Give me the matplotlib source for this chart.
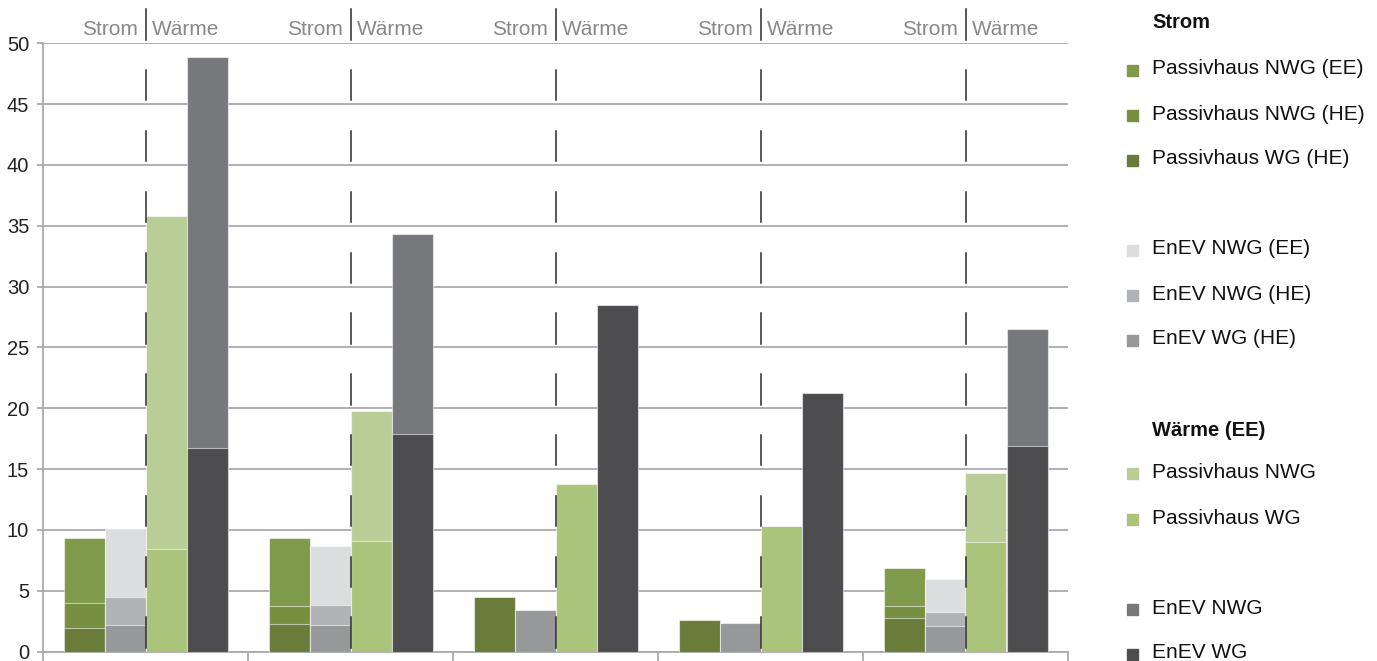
import numpy as np
import matplotlib.pyplot as plt
from matplotlib.patches import Rectangle

plt.rcParams['font.family'] = ['Liberation Sans', 'DejaVu Sans']

nan = np.nan
groups = np.arange(5)

# Strom - Passivhaus (overlapping bars, tallest first)
ph_nwg_ee = [9.35, 9.35, nan, nan, 6.85]
ph_nwg_he = [3.95, 3.75, nan, nan, 3.77]
ph_wg_he = [1.9, 2.26, 4.5, 2.57, 2.73]

# Strom - EnEV
enev_nwg_ee = [10.05, 8.7, nan, nan, 5.97]
enev_nwg_he = [4.45, 3.86, nan, nan, 3.28]
enev_wg_he = [2.15, 2.2, 3.4, 2.37, 2.12]

# Waerme (EE)
w_ph_nwg = [35.8, 19.75, nan, nan, 14.69]
w_ph_wg = [8.46, 9.07, 13.76, 10.3, 9.04]
w_enev_nwg = [48.9, 34.3, nan, nan, 26.5]
w_enev_wg = [16.7, 17.9, 28.5, 21.25, 16.86]

c_ph_nwg_ee = '#809a4b'
c_ph_nwg_he = '#768f40'
c_ph_wg_he = '#6a7b3a'
c_enev_nwg_ee = '#dcdddf'
c_enev_nwg_he = '#b1b3b6'
c_enev_wg_he = '#97989a'
c_w_ph_nwg = '#b9ce96'
c_w_ph_wg = '#aac47c'
c_w_enev_nwg = '#77787c'
c_w_enev_wg = '#4d4d4f'

fig = plt.figure(figsize=(13.77, 6.61), dpi=100)
ax = fig.add_axes([43 / 1377, 9.5 / 661, 1025 / 1377, 608.2 / 661])

w = 0.2
edge = dict(edgecolor=(1, 1, 1, 0.55), linewidth=0.8, zorder=3)
ax.bar(groups - 0.3, ph_nwg_ee, w, color=c_ph_nwg_ee, **edge)
ax.bar(groups - 0.3, ph_nwg_he, w, color=c_ph_nwg_he, **edge)
ax.bar(groups - 0.3, ph_wg_he, w, color=c_ph_wg_he, **edge)
ax.bar(groups - 0.1, enev_nwg_ee, w, color=c_enev_nwg_ee, **edge)
ax.bar(groups - 0.1, enev_nwg_he, w, color=c_enev_nwg_he, **edge)
ax.bar(groups - 0.1, enev_wg_he, w, color=c_enev_wg_he, **edge)
ax.bar(groups + 0.1, w_ph_nwg, w, color=c_w_ph_nwg, **edge)
ax.bar(groups + 0.1, w_ph_wg, w, color=c_w_ph_wg, **edge)
ax.bar(groups + 0.3, w_enev_nwg, w, color=c_w_enev_nwg, **edge)
ax.bar(groups + 0.3, w_enev_wg, w, color=c_w_enev_wg, **edge)

ax.set_xlim(-0.5, 4.5)
ax.set_ylim(0, 50)
ax.set_yticks(np.arange(0, 51, 5))
ax.set_xticks(np.arange(-0.5, 4.6, 1))
ax.set_xticklabels([])
ax.yaxis.grid(True, color='#aaaaaa', linewidth=1.3, zorder=0)
ax.set_axisbelow(True)
for s in ['top', 'right']:
    ax.spines[s].set_visible(False)
for s in ['left', 'bottom']:
    ax.spines[s].set_color('#aaaaaa')
    ax.spines[s].set_linewidth(1.3)
ax.tick_params(axis='y', length=4, color='#aaaaaa', width=1.3, labelsize=14.5, pad=6, labelcolor='#222222')
ax.tick_params(axis='x', length=8, color='#aaaaaa', width=1.3, direction='out')

# dashed separators between Strom and Waerme
for g in groups:
    for k in range(10):
        ax.plot([g, g], [5 * k + 0.3, 5 * k + 2.8], color='#2a2a2a', lw=1.1, zorder=4)
    ax.plot([g, g], [1.0054, 1.057], color='#2a2a2a', lw=1.1,
            transform=ax.get_xaxis_transform(), clip_on=False)
    ax.text(g - 0.035, 1.022, 'Strom', transform=ax.get_xaxis_transform(),
            ha='right', va='center', fontsize=15, color='#888888')
    ax.text(g + 0.03, 1.022, 'Wärme', transform=ax.get_xaxis_transform(),
            ha='left', va='center', fontsize=15, color='#888888')

# legend
leg = [
    ('Strom', None, 22),
    ('Passivhaus NWG (EE)', c_ph_nwg_ee, 69),
    ('Passivhaus NWG (HE)', c_ph_nwg_he, 114),
    ('Passivhaus WG (HE)', c_ph_wg_he, 159),
    ('EnEV NWG (EE)', c_enev_nwg_ee, 249),
    ('EnEV NWG (HE)', c_enev_nwg_he, 294),
    ('EnEV WG (HE)', c_enev_wg_he, 339),
    ('Wärme (EE)', None, 430),
    ('Passivhaus NWG', c_w_ph_nwg, 472),
    ('Passivhaus WG', c_w_ph_wg, 518),
    ('EnEV NWG', c_w_enev_nwg, 608),
    ('EnEV WG', c_w_enev_wg, 653),
]
W, H = 1377, 661
for label, col, ypx in leg:
    if col is None:
        fig.text(1152 / W, 1 - ypx / H, label, fontsize=14.5, fontweight='bold',
                 va='center', ha='left', color='#111111')
    else:
        fig.text(1152 / W, 1 - ypx / H, label, fontsize=15,
                 va='center', ha='left', color='#111111')
        fig.patches.append(Rectangle((1127 / W, 1 - (ypx + 7) / H), 11 / W, 11 / H,
                                     transform=fig.transFigure, color=col))

fig.savefig('out.png', dpi=100)
